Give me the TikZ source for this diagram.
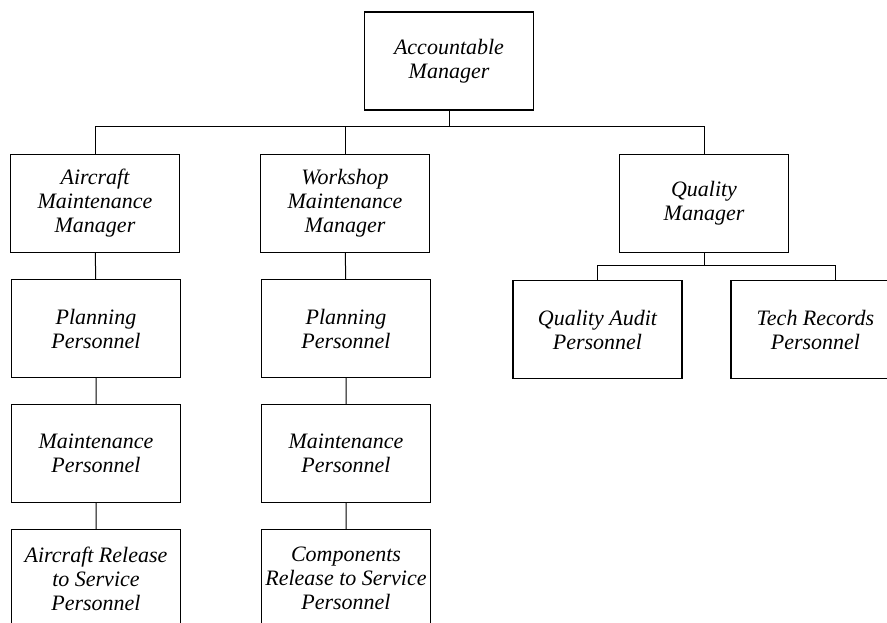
\documentclass[tikz,border=0pt]{standalone}
\usepackage{fontspec}
\setmainfont{Liberation Serif}
\usepackage{tikz}

\tikzset{
  post/.style={draw, line width=1.1pt, minimum width=169pt, minimum height=98pt,
    align=center, inner sep=2pt, font=\itshape\fontsize{22}{24}\selectfont},
  link/.style={line width=1pt}
}

\begin{document}
\begin{tikzpicture}[x=1pt,y=-1pt]
\useasboundingbox (0,0) rectangle (887,623);
%TOP
\node[post] (acc) at (449,61) {Accountable\\Manager};
\coordinate (bus) at (0,127);
\coordinate (qbus) at (0,265);
%MANAGERS
\node[post] (amm) at (95,203.5) {Aircraft\\Maintenance\\Manager};
\node[post] (wmm) at (345,203.5) {Workshop\\Maintenance\\Manager};
\node[post] (qm) at (704,203.5) {Quality\\Manager};
%LEFT
\node[post] (plana) at (96,328.5) {Planning\\Personnel};
\node[post] (mainta) at (96,453.5) {Maintenance\\Personnel};
\node[post] (rela) at (96,578.5) {Aircraft Release\\to Service\\Personnel};
%MIDDLE
\node[post] (planw) at (346,328.5) {Planning\\Personnel};
\node[post] (maintw) at (346,453.5) {Maintenance\\Personnel};
\node[post] (relw) at (346,578.5) {Components\\Release to Service\\Personnel};
%RIGHT
\node[post] (qa) at (597.5,329.5) {Quality Audit\\Personnel};
\node[post] (tr) at (815.5,329.5) {Tech Records\\Personnel};
\coordinate (trtop) at ([xshift=20pt]tr.north);
% Links
\draw[link] (acc.south) -- (acc.south |- bus);
\draw[link] (amm.north) |- (qm.north |- bus) -- (qm.north);
\draw[link] (wmm.north) -- (wmm.north |- bus);
\draw[link] (amm) -- (plana) -- (mainta) -- (rela);
\draw[link] (wmm) -- (planw) -- (maintw) -- (relw);
\draw[link] (qm.south) -- (qm.south |- qbus);
\draw[link] (qa.north) |- (trtop |- qbus) -- (trtop);
\end{tikzpicture}
\end{document}
